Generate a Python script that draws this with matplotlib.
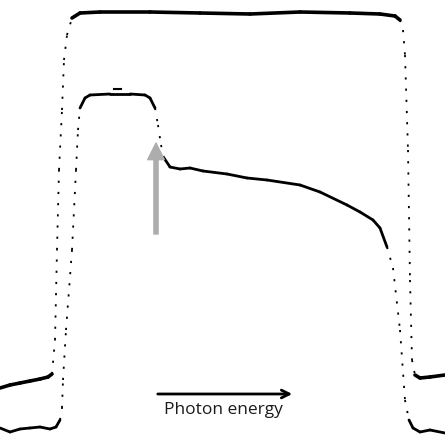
import matplotlib.pyplot as plt

# outer curve (pixel-like units)
outer_x = [0, 10, 20, 30, 40, 48, 52, 55, 57, 59, 62, 64, 67, 72, 80, 100, 150, 200,
           250, 300, 350, 380, 395, 400, 403, 405, 408, 410, 412, 415, 420, 430, 445]
outer_y = [388, 385, 383, 381, 379, 377, 374, 340, 250, 170, 110, 60, 35, 18, 13, 12, 12, 13,
           14, 12, 13, 14, 16, 20, 30, 55, 150, 280, 360, 375, 378, 377, 375]

# inner curve
inner_x = [0, 10, 20, 30, 40, 50, 56, 60, 62, 63, 66, 72, 76, 78, 80, 85, 90, 110, 130,
           145, 150, 155, 158, 161, 164, 170, 180, 190, 203, 227, 247, 267, 300, 320,
           347, 360, 373, 380, 387, 393, 400, 405, 409, 413, 420, 430, 445]
inner_y = [428, 432, 429, 428, 427, 429, 427, 420, 408, 380, 330, 250, 170, 130, 108, 98, 95, 94, 94,
           95, 98, 108, 125, 145, 158, 167, 169, 168, 171, 174, 178, 180, 185, 192,
           205, 212, 220, 228, 247, 268, 330, 400, 420, 428, 432, 430, 433]

arrow_label = "Photon energy"

fig = plt.figure(figsize=(4.45, 4.38), dpi=100)
ax = fig.add_axes([0, 0, 1, 1])
ax.set_xlim(0, 445)
ax.set_ylim(438, 0)
ax.axis('off')


def draw_curve(xs, ys, lw):
    for i in range(len(xs) - 1):
        dx = xs[i + 1] - xs[i]
        dy = ys[i + 1] - ys[i]
        steep = abs(dy) > 3 * abs(dx)
        if steep:
            ax.plot(xs[i:i + 2], ys[i:i + 2], color='black', lw=1.3,
                    linestyle=(0, (1.2, 5)), solid_capstyle='butt')
        else:
            ax.plot(xs[i:i + 2], ys[i:i + 2], color='black', lw=lw,
                    solid_capstyle='round')


draw_curve(outer_x, outer_y, 2.6)
draw_curve(inner_x, inner_y, 2.0)

# small dash above the inner plateau
ax.plot([114, 121], [89, 89], color='black', lw=1.5)

# gray arrow pointing at the edge
ax.annotate('', xy=(156, 143), xytext=(156, 234),
            arrowprops=dict(facecolor='#adadad', edgecolor='#adadad',
                            width=3, headwidth=12, headlength=12))

# photon energy arrow
ax.annotate('', xy=(295, 394), xytext=(155, 394),
            arrowprops=dict(arrowstyle='->', color='black', lw=2,
                            mutation_scale=14))
ax.text(223, 410, arrow_label, ha='center', va='center', fontsize=12.5,
        family='Open Sans', color='#1a1a1a')

fig.savefig('out.png', dpi=100)
